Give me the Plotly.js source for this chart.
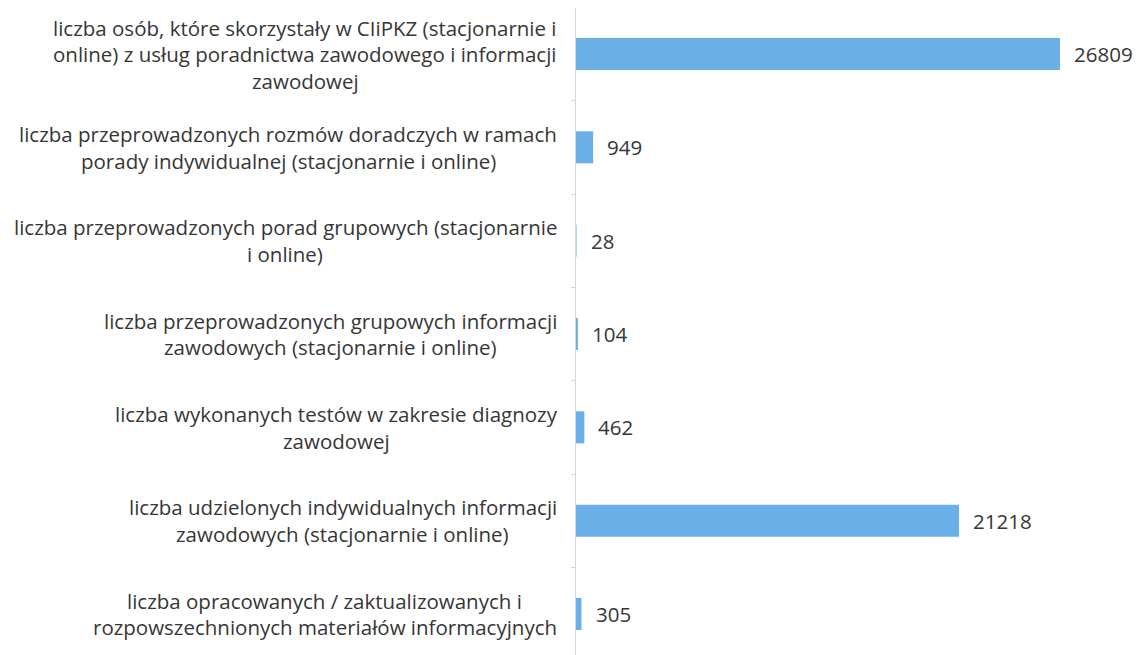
<!DOCTYPE html>
<html>
<head>
<meta charset="utf-8">
<script src="https://cdn.plot.ly/plotly-3.0.1.min.js"></script>
<style>
  html, body { margin: 0; padding: 0; background: #ffffff; }
  #chart { width: 1144px; height: 655px; }
</style>
</head>
<body>
<div id="chart"></div>
<script>
// ---- data ----
const categories = [
  "liczba osób, które skorzystały w CIiPKZ (stacjonarnie i<br>online) z usług poradnictwa zawodowego i informacji<br>zawodowej",
  "liczba przeprowadzonych rozmów doradczych w ramach<br>porady indywidualnej (stacjonarnie i online)",
  "liczba przeprowadzonych porad grupowych (stacjonarnie<br>i online)",
  "liczba przeprowadzonych grupowych informacji<br>zawodowych (stacjonarnie i online)",
  "liczba wykonanych testów w zakresie diagnozy<br>zawodowej",
  "liczba udzielonych indywidualnych informacji<br>zawodowych (stacjonarnie i online)",
  "liczba opracowanych / zaktualizowanych i<br>rozpowszechnionych materiałów informacyjnych"
];
const values = [26809, 949, 28, 104, 462, 21218, 305];

// ---- layout constants ----
const W = 1144, H = 655;
const ML = 576, MT = 8;
const PW = W - ML, PH = H - MT;
const FONT = "Open Sans";
const LABEL_SIZE = 20.5;
const VALUE_SIZE = 20.5;
const LINE_GAP = 26.5;
const LABEL_RIGHT = 557;
const TEXT_COLOR = "#363636";

const ctx = document.createElement("canvas").getContext("2d");
ctx.font = LABEL_SIZE + "px '" + FONT + "'";

const annotations = [];
categories.forEach((cat, i) => {
  const lines = cat.split("<br>");
  const maxW = Math.max(...lines.map(l => ctx.measureText(l).width));
  const cx = LABEL_RIGHT - maxW / 2;
  const n = lines.length;
  lines.forEach((line, j) => {
    annotations.push({
      xref: "paper", yref: "y",
      x: (cx - ML) / PW, y: i,
      xanchor: "center", yanchor: "middle",
      yshift: -((j - (n - 1) / 2) * LINE_GAP),
      text: line, showarrow: false,
      font: { family: FONT, size: LABEL_SIZE, color: TEXT_COLOR }
    });
  });
  annotations.push({
    xref: "x", yref: "y",
    x: values[i], y: i,
    xanchor: "left", yanchor: "middle",
    xshift: 12,
    text: String(values[i]), showarrow: false,
    font: { family: FONT, size: VALUE_SIZE, color: TEXT_COLOR }
  });
});

const trace = {
  type: "bar",
  orientation: "h",
  y: categories.map((c, i) => i),
  x: values,
  width: 0.343,
  marker: { color: "#6aafe8" },
  hoverinfo: "none"
};

const layout = {
  width: W, height: H,
  margin: { l: ML, r: 0, t: MT, b: 0, pad: 0 },
  paper_bgcolor: "#ffffff",
  plot_bgcolor: "#ffffff",
  showlegend: false,
  font: { family: FONT, color: TEXT_COLOR },
  xaxis: {
    range: [0, 31461],
    showgrid: false, zeroline: false, showline: false,
    showticklabels: false, ticks: ""
  },
  yaxis: {
    type: "linear",
    range: [6.439, -0.493],
    showgrid: false, zeroline: false,
    showline: true, linecolor: "#d6d6d6", linewidth: 1,
    showticklabels: false,
    tickmode: "array",
    tickvals: [0.5, 1.5, 2.5, 3.5, 4.5, 5.5],
    ticks: "outside", ticklen: 4, tickcolor: "#d6d6d6"
  },
  annotations: annotations
};

Plotly.newPlot("chart", [trace], layout, { displayModeBar: false, staticPlot: true });
</script>
</body>
</html>
